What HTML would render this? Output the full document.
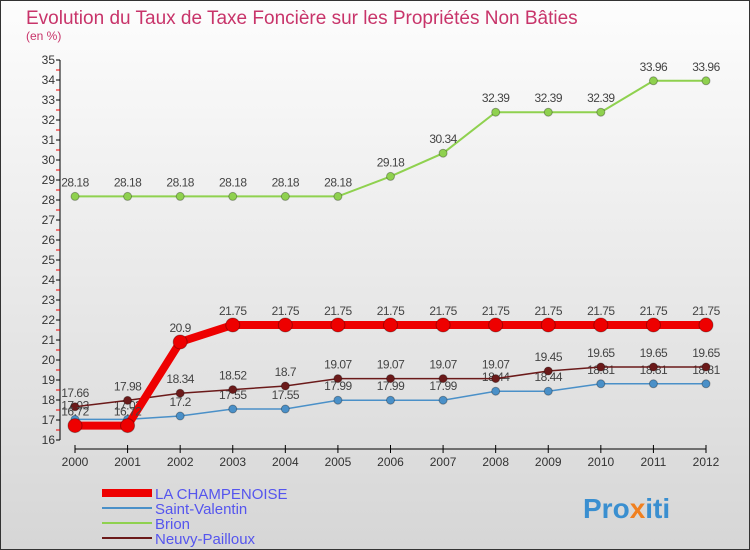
<!DOCTYPE html>
<html><head><meta charset="utf-8"><style>
body{margin:0;width:750px;height:550px;overflow:hidden;font-family:"Liberation Sans",sans-serif}
#wrap{position:absolute;left:0;top:0;width:748px;height:548px;border:1px solid #333;background:linear-gradient(#fdfdfd,#d6d6d6)}
</style></head><body>
<div id="wrap">
<svg id="chart" width="750" height="550" style="position:absolute;left:-1px;top:-1px">
<text x="26" y="24" font-size="19" fill="#c8346a">Evolution du Taux de Taxe Foncière sur les Propriétés Non Bâties</text>
<text x="26" y="40" font-size="12" fill="#c8346a">(en %)</text>
<g id="axes"></g><g id="series"></g>
<g id="legend"></g>
<text x="583" y="518" font-size="28" font-weight="bold" fill="#3a8fd0">Pro<tspan fill="#f08020">x</tspan>iti</text>
</svg></div>
<script>
const years=[2000,2001,2002,2003,2004,2005,2006,2007,2008,2009,2010,2011,2012];
const yTicks=[16,17,18,19,20,21,22,23,24,25,26,27,28,29,30,31,32,33,34,35];
const champenoise=[16.72,16.72,20.9,21.75,21.75,21.75,21.75,21.75,21.75,21.75,21.75,21.75,21.75];
const saintValentin=[17.03,17.03,17.2,17.55,17.55,17.99,17.99,17.99,18.44,18.44,18.81,18.81,18.81];
const brion=[28.18,28.18,28.18,28.18,28.18,28.18,29.18,30.34,32.39,32.39,32.39,33.96,33.96];
const neuvy=[17.66,17.98,18.34,18.52,18.7,19.07,19.07,19.07,19.07,19.45,19.65,19.65,19.65];
const seriesNames=["LA CHAMPENOISE","Saint-Valentin","Brion","Neuvy-Pailloux"];
const NS="http://www.w3.org/2000/svg";
const X=i=>75+i*(706-75)/(years.length-1);
const Y=v=>440-(v-16)*20;
function mk(t,a,p){const e=document.createElementNS(NS,t);for(const k in a)e.setAttribute(k,a[k]);p.appendChild(e);return e;}
const ax=document.getElementById('axes');
let l=mk('line',{x1:60,y1:Y(35),x2:60,y2:Y(16),stroke:'#000'},ax);


yTicks.forEach(v=>{
 const t=mk('line',{x1:56,x2:60,y1:Y(v),y2:Y(v),stroke:'#000'},ax);
 
 
 if(v<35){const m=mk('line',{x1:56,x2:60,y1:Y(v+0.5),y2:Y(v+0.5),stroke:'#e00'},ax);
 
 }
 const tx=mk('text',{x:55,y:Y(v)+4,'font-size':12,'text-anchor':'end',fill:'#333'},ax);tx.textContent=v;
 
 
});
l=mk('line',{x1:X(0),y1:449,x2:X(12),y2:449,stroke:'#000'},ax);


years.forEach((y,i)=>{
 const t=mk('line',{x1:X(i),x2:X(i),y1:445,y2:453,stroke:'#000'},ax);
 
 
 const tx=mk('text',{x:X(i),y:466,'font-size':12,'text-anchor':'middle',fill:'#333'},ax);tx.textContent=y;
 
 
});
const sg=document.getElementById('series');
function draw(data,color,w,r,name,dy){
 const g=mk('g',{},sg);
 
 
 const pl=mk('polyline',{points:data.map((v,i)=>X(i)+','+Y(v)).join(' '),fill:'none',stroke:color,'stroke-width':w},g);
 
 
 data.forEach((v,i)=>{
  const c=mk('circle',{cx:X(i),cy:Y(v),r:r,fill:color,stroke:'rgba(0,0,0,0.3)','stroke-width':1},g);
  
  
  const t=mk('text',{x:X(i),y:Y(v)+dy,'font-size':12,'text-anchor':'middle',fill:'#444','letter-spacing':'-0.5'},g);t.textContent=v;
  
  
 });
}
draw(brion,'#8fd14f',2,4,'brion',-10);
draw(saintValentin,'#4a90c8',1.5,4,'saint-valentin',-10);
draw(neuvy,'#6b1a1a',1.5,4,'neuvy-pailloux',-10);
draw(champenoise,'#ee0000',8,7,'la-champenoise',-10);
const lg=document.getElementById('legend');
const lc=['#ee0000','#4a90c8','#8fd14f','#6b1a1a'],lw=[8,2,2,2];
seriesNames.forEach((n,i)=>{
 const y=493+i*15;
 const ln=mk('line',{x1:102,x2:152,y1:y,y2:y,stroke:lc[i],'stroke-width':lw[i]},lg);
 
 
 const t=mk('text',{x:155,y:y+6,'font-size':15,fill:'#5555ee'},lg);t.textContent=n;
 
 
});
</script>
</body></html>
